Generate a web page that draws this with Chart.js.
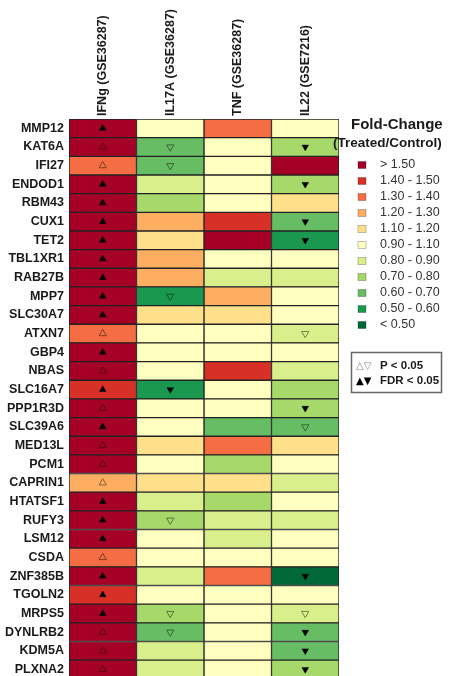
<!DOCTYPE html>
<html>
<head>
<meta charset="utf-8">
<title>Fold-Change heatmap</title>
<script src="https://cdn.jsdelivr.net/npm/chart.js@4.4.1/dist/chart.umd.min.js"></script>
<style>
  html, body { margin: 0; padding: 0; background: #fff; overflow: hidden; }
  #wrap { position: relative; width: 449px; height: 684px; }
</style>
</head>
<body>
<div id="wrap"><canvas id="heat"></canvas></div>
<script>
// Genes (rows, top to bottom) and treatments (columns)
const genes = ['MMP12', 'KAT6A', 'IFI27', 'ENDOD1', 'RBM43', 'CUX1', 'TET2', 'TBL1XR1', 'RAB27B', 'MPP7',
  'SLC30A7', 'ATXN7', 'GBP4', 'NBAS', 'SLC16A7', 'PPP1R3D', 'SLC39A6', 'MED13L', 'PCM1', 'CAPRIN1',
  'HTATSF1', 'RUFY3', 'LSM12', 'CSDA', 'ZNF385B', 'TGOLN2', 'MRPS5', 'DYNLRB2', 'KDM5A', 'PLXNA2'];
const columns = ['IFNg (GSE36287)', 'IL17A (GSE36287)', 'TNF (GSE36287)', 'IL22 (GSE7216)'];

// Fold-change (treated / control) per treatment
const ifng = [2.10, 1.60, 1.35, 1.70, 1.65, 1.80, 1.75, 1.70, 1.68, 1.72,
  1.60, 1.33, 2.50, 1.55, 1.45, 1.58, 1.62, 1.56, 1.55, 1.26,
  1.60, 1.64, 1.57, 1.34, 1.66, 1.44, 1.59, 1.56, 1.53, 1.52];
const il17a = [1.02, 0.66, 0.64, 0.86, 0.76, 1.24, 1.14, 1.23, 1.25, 0.56,
  1.15, 1.01, 0.98, 1.03, 0.55, 0.97, 1.04, 1.13, 0.99, 1.12,
  0.86, 0.74, 0.96, 0.98, 0.84, 0.97, 0.77, 0.67, 0.87, 0.85];
const tnf = [1.36, 1.02, 1.05, 0.98, 1.01, 1.46, 1.58, 1.04, 0.87, 1.22,
  1.14, 1.03, 1.06, 1.44, 1.02, 0.99, 0.66, 1.33, 0.76, 1.13,
  0.74, 0.84, 0.86, 1.01, 1.35, 0.97, 1.03, 1.04, 0.98, 1.00];
const il22 = [1.03, 0.74, 1.70, 0.75, 1.16, 0.64, 0.55, 1.01, 0.86, 1.02,
  0.99, 0.84, 1.04, 0.85, 0.76, 0.73, 0.65, 1.16, 1.02, 0.88,
  0.97, 0.86, 0.98, 1.04, 0.42, 1.00, 0.84, 0.66, 0.65, 0.73];

// Significance: 'F' = FDR < 0.05, 'P' = P < 0.05, '' = not significant
const ifngSig = ['F', 'P', 'P', 'F', 'F', 'F', 'F', 'F', 'F', 'F',
  'F', 'P', 'F', 'P', 'F', 'P', 'F', 'P', 'P', 'P',
  'F', 'F', 'F', 'P', 'F', 'F', 'F', 'P', 'P', 'P'];
const il17aSig = ['', 'P', 'P', '', '', '', '', '', '', 'P',
  '', '', '', '', 'F', '', '', '', '', '',
  '', 'P', '', '', '', '', 'P', 'P', '', ''];
const tnfSig = ['', '', '', '', '', '', '', '', '', '',
  '', '', '', '', '', '', '', '', '', '',
  '', '', '', '', '', '', '', '', '', ''];
const il22Sig = ['', 'F', '', 'F', '', 'F', 'F', '', '', '',
  '', 'P', '', '', '', 'F', 'P', '', '', '',
  '', '', '', '', 'F', '', 'P', 'F', 'F', 'F'];

// Colour bins
const binLabels = ['> 1.50', '1.40 - 1.50', '1.30 - 1.40', '1.20 - 1.30', '1.10 - 1.20', '0.90 - 1.10',
  '0.80 - 0.90', '0.70 - 0.80', '0.60 - 0.70', '0.50 - 0.60', '< 0.50'];
const binEdges = [1.5, 1.4, 1.3, 1.2, 1.1, 0.9, 0.8, 0.7, 0.6, 0.5];

const palette = ['#a50026', '#d73027', '#f46d43', '#fdae61', '#fee08b', '#ffffbf',
  '#d9ef8b', '#a6d96a', '#66bd63', '#1a9850', '#006837'];

const values = [ifng, il17a, tnf, il22];
const sigs = [ifngSig, il17aSig, tnfSig, il22Sig];

function binOf(v) {
  for (let i = 0; i < binEdges.length; i++) if (v > binEdges[i]) return i;
  return binEdges.length;
}
function colorOf(v) { return palette[binOf(v)]; }
function darken(hex, f) {
  const n = parseInt(hex.slice(1), 16);
  const r = Math.round(((n >> 16) & 255) * f), g = Math.round(((n >> 8) & 255) * f), b = Math.round((n & 255) * f);
  return `rgb(${r},${g},${b})`;
}

const FONT = '"Liberation Sans", Arial, Helvetica, sans-serif';

// Heat cells: one floating bar per gene in each treatment column
const cellSets = values.map((vals, c) => ({
  type: 'bar',
  label: columns[c],
  indexAxis: 'y',
  data: genes.map(() => [c, c + 1]),
  backgroundColor: vals.map(colorOf),
  borderColor: '#222',
  borderWidth: 1,
  borderSkipped: false,
  grouped: false,
  barPercentage: 1,
  categoryPercentage: 1,
  order: 2
}));

// Significance markers
function markerPoints(kind, up) {
  const pts = [], edge = [];
  values.forEach((vals, c) => {
    vals.forEach((v, r) => {
      if (sigs[c][r] === kind && (v > 1) === up) {
        pts.push({ x: c + 0.5, y: genes[r] });
        edge.push(darken(colorOf(v), 0.55));
      }
    });
  });
  return { pts, edge };
}
const markerSets = [];
[true, false].forEach(up => {
  const f = markerPoints('F', up);
  markerSets.push({
    type: 'scatter', indexAxis: 'x', data: f.pts,
    pointStyle: 'triangle', rotation: up ? 0 : 180,
    pointRadius: 3.8, backgroundColor: '#000', borderColor: '#000', borderWidth: 0.5, order: 1
  });
  const p = markerPoints('P', up);
  markerSets.push({
    type: 'scatter', indexAxis: 'x', data: p.pts,
    pointStyle: 'triangle', rotation: up ? 0 : 180,
    pointRadius: 4.2, backgroundColor: 'rgba(0,0,0,0)', borderColor: p.edge, borderWidth: 1, order: 1
  });
});

// Bin key and marker key on the right-hand side
const keyPlugin = {
  id: 'foldKey',
  afterDraw(chart) {
    const ctx = chart.ctx;
    ctx.save();
    ctx.textBaseline = 'middle';
    ctx.textAlign = 'left';
    ctx.fillStyle = '#1a1a1a';
    ctx.font = `bold 15px ${FONT}`;
    ctx.fillText('Fold-Change', 351, 125);
    ctx.font = `bold 13.5px ${FONT}`;
    ctx.fillText('(Treated/Control)', 333, 143);

    binLabels.forEach((lab, i) => {
      const y = 165 + i * 16;
      ctx.fillStyle = palette[i];
      ctx.fillRect(358, y - 3.5, 8, 7);
      ctx.strokeStyle = 'rgba(0,0,0,0.3)';
      ctx.lineWidth = 0.8;
      ctx.strokeRect(358, y - 3.5, 8, 7);
      ctx.fillStyle = '#333';
      ctx.font = `12.5px ${FONT}`;
      ctx.fillText(lab, 380, y);
    });

    ctx.strokeStyle = '#666';
    ctx.lineWidth = 1.5;
    ctx.strokeRect(351.5, 352.5, 90, 40);
    ctx.font = `10px "DejaVu Sans", sans-serif`;
    ctx.fillStyle = '#888';
    ctx.fillText('\u25B3\u25BD', 356, 366);
    ctx.fillStyle = '#000';
    ctx.fillText('\u25B2\u25BC', 356, 381);
    ctx.font = `bold 11.5px ${FONT}`;
    ctx.fillStyle = '#1a1a1a';
    ctx.fillText('P < 0.05', 380, 366);
    ctx.fillText('FDR < 0.05', 380, 381);
    ctx.restore();
  }
};

new Chart(document.getElementById('heat'), {
  type: 'bar',
  data: { labels: genes, datasets: [...markerSets, ...cellSets] },
  options: {
    indexAxis: 'y',
    responsive: true,
    maintainAspectRatio: false,
    animation: false,
    layout: { padding: { left: 0, right: 110, top: 0, bottom: 1 } },
    plugins: { legend: { display: false }, tooltip: { enabled: false } },
    scales: {
      x: {
        type: 'linear', position: 'top', min: 0, max: 4,
        grid: { display: false, drawTicks: false, tickLength: 0 },
        border: { display: false },
        afterBuildTicks: s => { s.ticks = columns.map((_, i) => ({ value: i + 0.5 })); },
        afterFit: s => { s.height = 119; s.paddingLeft = 0; s.paddingRight = 0; },
        ticks: {
          autoSkip: false, minRotation: 90, maxRotation: 90, padding: 3, labelOffset: 15,
          color: '#1a1a1a', font: { family: FONT, size: 12.5, weight: 'bold' },
          callback: v => columns[Math.floor(v)]
        }
      },
      y: {
        type: 'category',
        grid: { display: false, drawTicks: false, tickLength: 0 },
        border: { display: false },
        afterFit: s => { s.width = 69; s.paddingTop = 0; s.paddingBottom = 0; },
        ticks: {
          autoSkip: false, padding: 5,
          color: '#1a1a1a', font: { family: FONT, size: 12.5, weight: 'bold' }
        }
      }
    }
  },
  plugins: [keyPlugin]
});
</script>
</body>
</html>
